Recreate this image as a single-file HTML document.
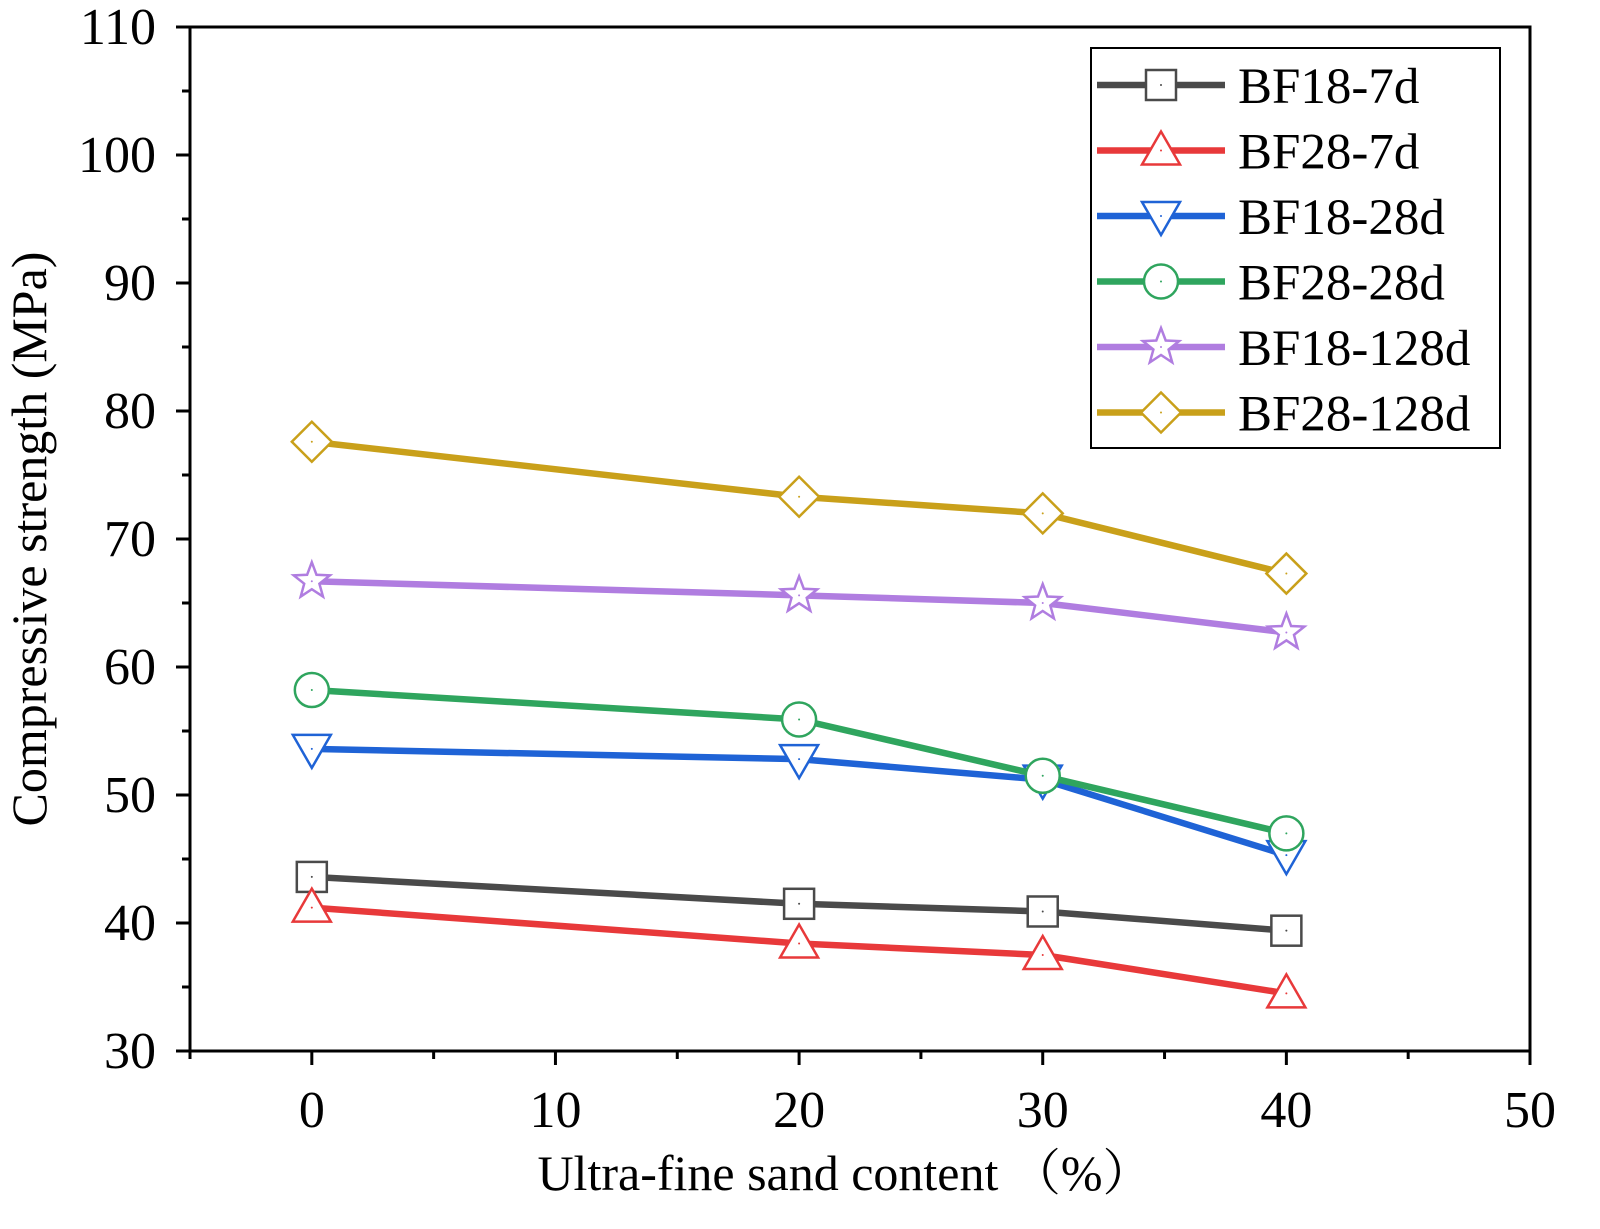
<!DOCTYPE html>
<html><head><meta charset="utf-8"><style>
html,body{margin:0;padding:0;background:#fff;}
svg text{font-family:"Liberation Serif","Noto Serif CJK SC",serif;fill:#000;}
</style></head><body>
<svg id="chart" width="1600" height="1224" viewBox="0 0 1600 1224" xmlns="http://www.w3.org/2000/svg">
<g id="axes"></g><g id="series"></g><g id="legend"></g>
</svg>
<script>
const categories=[0,20,30,40];
const seriesNames=["BF18-7d","BF28-7d","BF18-28d","BF28-28d","BF18-128d","BF28-128d"];
const s1=[43.6,41.5,40.9,39.4];
const s2=[41.2,38.4,37.5,34.5];
const s3=[53.6,52.8,51.2,45.3];
const s4=[58.2,55.9,51.5,47.0];
const s5=[66.7,65.6,65.0,62.7];
const s6=[77.6,73.3,72.0,67.3];
const xTicks=[0,10,20,30,40,50];
const yTicks=[30,40,50,60,70,80,90,100,110];
const colors=["#4a4a4a","#e8393a","#1f63d6","#2fa55e","#b07de0","#c9a01a"];
const markers=["square","up","down","circle","star","diamond"];
const allSeries=[s1,s2,s3,s4,s5,s6];
const NS="http://www.w3.org/2000/svg";
const L=190,R=1530,T=27,B=1051;
const xs=v=>L+(v+5)/55*(R-L);
const ys=v=>B-(v-30)/80*(B-T);
function mk(tag,attrs,parent){const e=document.createElementNS(NS,tag);for(const k in attrs)e.setAttribute(k,attrs[k]);parent.appendChild(e);return e;}
const ax=document.getElementById('axes');
const frame=mk('rect',{x:L,y:T,width:R-L,height:B-T,fill:'none',stroke:'#000','stroke-width':3},ax);


for(let v=-5;v<=50;v+=5){const maj=v%10===0;
 const t=mk('line',{x1:xs(v),x2:xs(v),y1:B,y2:B+(maj?14:8),stroke:'#000','stroke-width':3},ax);
 
 }
xTicks.forEach(v=>{const t=mk('text',{x:xs(v),y:B+76,'text-anchor':'middle','font-size':52},ax);t.textContent=v;
 
 });
for(let v=30;v<=110;v+=5){const maj=v%10===0;
 const t=mk('line',{x1:L,x2:L-(maj?14:8),y1:ys(v),y2:ys(v),stroke:'#000','stroke-width':3},ax);
 
 }
yTicks.forEach(v=>{const t=mk('text',{x:L-34,y:ys(v)+17,'text-anchor':'end','font-size':52},ax);t.textContent=v;
 
 });
const xt=mk('text',{x:845,y:1190,'text-anchor':'middle','font-size':50},ax);xt.textContent="Ultra-fine sand content （%）";


const yt=mk('text',{x:0,y:0,'text-anchor':'middle','font-size':50,transform:'translate(46,539) rotate(-90)'},ax);yt.textContent="Compressive strength (MPa)";


function marker(type,cx,cy,color,parent){
 const a={fill:'#fff',stroke:color,'stroke-width':2.5};let e;
 if(type==='square')e=mk('rect',Object.assign({x:cx-15,y:cy-15,width:30,height:30},a),parent);
 else if(type==='circle')e=mk('circle',Object.assign({cx:cx,cy:cy,r:17},a),parent);
 else if(type==='up')e=mk('polygon',Object.assign({points:`${cx},${cy-19} ${cx+19},${cy+14} ${cx-19},${cy+14}`},a),parent);
 else if(type==='down')e=mk('polygon',Object.assign({points:`${cx},${cy+19} ${cx+19},${cy-14} ${cx-19},${cy-14}`},a),parent);
 else if(type==='diamond')e=mk('polygon',Object.assign({points:`${cx},${cy-20} ${cx+20},${cy} ${cx},${cy+20} ${cx-20},${cy}`},a),parent);
 else{let p=[];for(let i=0;i<10;i++){const r=i%2?8:19,ang=-Math.PI/2+i*Math.PI/5;p.push((cx+r*Math.cos(ang)).toFixed(1)+','+(cy+r*Math.sin(ang)).toFixed(1));}
  e=mk('polygon',Object.assign({points:p.join(' ')},a),parent);}
 mk('circle',{cx:cx,cy:cy,r:1,fill:color},parent);
 return e;}
const sg=document.getElementById('series');
allSeries.forEach((vals,i)=>{
 const g=mk('g',{},sg);
 
 
 const ln=mk('polyline',{points:vals.map((v,j)=>xs(categories[j])+','+ys(v)).join(' '),fill:'none',stroke:colors[i],'stroke-width':6.5,'stroke-linejoin':'round'},g);
 
 
 vals.forEach((v,j)=>{const m=marker(markers[i],xs(categories[j]),ys(v),colors[i],g);
  
  });
});
const lg=document.getElementById('legend');
const lb=mk('rect',{x:1091,y:48,width:409,height:400,fill:'#fff',stroke:'#000','stroke-width':2},lg);


seriesNames.forEach((n,i)=>{
 const y=85+i*65.5;
 const g=mk('g',{},lg);
 
 
 mk('line',{x1:1097,x2:1225,y1:y,y2:y,stroke:colors[i],'stroke-width':6.5},g);
 marker(markers[i],1161,y,colors[i],g);
 const t=mk('text',{x:1238,y:y+18,'font-size':51},g);t.textContent=n;
});
</script>
</body></html>
